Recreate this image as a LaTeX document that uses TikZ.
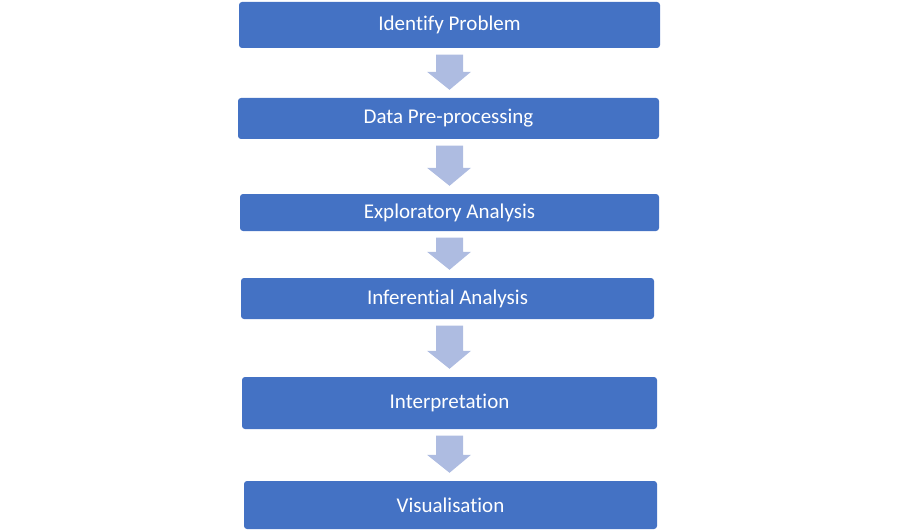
\documentclass[tikz,border=0pt]{standalone}
\usepackage{fontspec}
\setmainfont{Carlito}[Ligatures=NoCommon]
\usetikzlibrary{calc}
\definecolor{boxblue}{RGB}{68,114,196}
\definecolor{arrowblue}{RGB}{174,188,225}
\tikzset{
  stepbox/.style={rectangle, rounded corners=3pt, fill=boxblue, text=white,
    inner sep=0pt, font=\fontsize{21pt}{25pt}\selectfont},
  arrowfill/.style={fill=arrowblue}
}
% block arrow between two boxes
\def\flowarrow#1#2{%
  \fill[arrowfill] let \p1=($(#1.south)+(0,6.5)$), \p2=($(#2.north)+(0,-8)$),
    \n1={\y2+18pt} in
    (436pt,\y1) -- (463pt,\y1) -- (463pt,\n1) -- (471pt,\n1) -- (449.5pt,\y2)
    -- (427pt,\n1) -- (436pt,\n1) -- cycle;}

\begin{document}
\begin{tikzpicture}[x=1pt,y=-1pt]
\useasboundingbox (0,0) rectangle (899,532);
\node[stepbox, minimum width=421pt, minimum height=46pt] (problem) at (449.5,25) {Identify Problem};
\node[stepbox, minimum width=421pt, minimum height=41pt] (prep) at (448.5,118.5) {Data Pre-processing};
\node[stepbox, minimum width=419pt, minimum height=37pt] (explore) at (449.5,212.5) {Exploratory Analysis};
\node[stepbox, minimum width=413pt, minimum height=41pt] (infer) at (447.5,298.5) {Inferential Analysis};
\node[stepbox, minimum width=415pt, minimum height=52pt] (interp) at (449.5,403) {Interpretation};
\node[stepbox, minimum width=413pt, minimum height=48pt] (visual) at (450.5,505) {Visualisation};
\flowarrow{problem}{prep}
\flowarrow{prep}{explore}
\flowarrow{explore}{infer}
\flowarrow{infer}{interp}
\flowarrow{interp}{visual}
\end{tikzpicture}
\end{document}
